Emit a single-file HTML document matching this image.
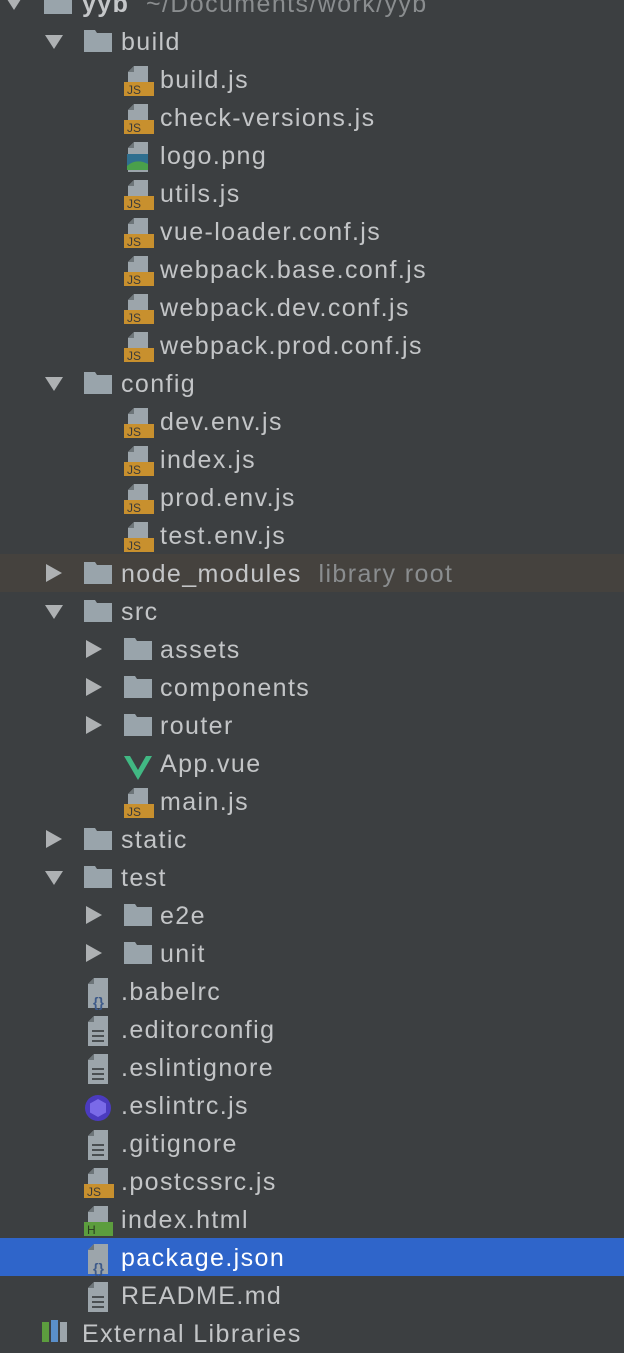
<!DOCTYPE html>
<html><head><meta charset="utf-8"><style>
html,body{margin:0;padding:0;}
body{width:624px;height:1326px;background:#3c3f41;position:relative;overflow:hidden;font-family:"Lucida Grande","Liberation Sans",sans-serif;}
.r{position:absolute;left:0;width:624px;height:38px;}
.t{position:absolute;top:1px;line-height:38px;font-size:25px;letter-spacing:1.4px;color:#c3c5c7;white-space:nowrap;}
.a{position:absolute;}
.i{position:absolute;top:6px;}
.f{position:absolute;top:8px;}
.sel{background:#2f65ca;}
.sel .t{color:#fff;}
.nm{background:#45423e;}
</style></head><body>
<svg width="0" height="0" style="position:absolute">
<defs>
<symbol id="dn" viewBox="0 0 18 14"><polygon points="0,0 18,0 9,14" fill="#aeb1b3"/></symbol>
<symbol id="rt" viewBox="0 0 16 18"><polygon points="0,0 16,9 0,18" fill="#aeb1b3"/></symbol>
<symbol id="fold" viewBox="0 0 28 22"><path d="M0 0H11L13 3H28V22H0Z" fill="#99a4ab"/></symbol>
<symbol id="js" viewBox="0 0 32 32"><path d="M10 0H24V16H4V6Z" fill="#9ca5ab"/><path d="M4 6L10 0V6Z" fill="#6d7579"/><rect x="0" y="16" width="30" height="14" fill="#c8902e"/><text x="3" y="28" font-family="Liberation Sans,sans-serif" font-size="12" fill="#3a3a3a">JS</text></symbol>
<symbol id="doc" viewBox="0 0 32 32"><path d="M10 0H24V30H4V6Z" fill="#9ca5ab"/><path d="M4 6L10 0V6Z" fill="#6d7579"/><rect x="8" y="14" width="12" height="2" fill="#4a4f52"/><rect x="8" y="19" width="12" height="2" fill="#4a4f52"/><rect x="8" y="24" width="12" height="2" fill="#4a4f52"/></symbol>
<symbol id="json" viewBox="0 0 32 32"><path d="M10 0H24V30H4V6Z" fill="#9ca5ab"/><path d="M4 6L10 0V6Z" fill="#6d7579"/><text x="9" y="29" font-family="Liberation Sans,sans-serif" font-size="14" font-weight="bold" fill="#3d5a8a">{}</text></symbol>
<symbol id="html" viewBox="0 0 32 32"><path d="M10 0H24V16H4V6Z" fill="#9ca5ab"/><path d="M4 6L10 0V6Z" fill="#6d7579"/><rect x="0" y="16" width="29" height="14" fill="#5c9d3e"/><text x="3" y="28" font-family="Liberation Sans,sans-serif" font-size="12" fill="#2a3a20">H</text></symbol>
<symbol id="png" viewBox="0 0 32 32"><path d="M10 0H24V30H4V6Z" fill="#9ca5ab"/><path d="M4 6L10 0V6Z" fill="#6d7579"/><rect x="3" y="12" width="21" height="16" fill="#2f6f8f"/><path d="M3 24Q12 16 24 22V28H3Z" fill="#4aa04a"/></symbol>
<symbol id="esl" viewBox="0 0 32 32"><circle cx="14" cy="16" r="13" fill="#4b3bbf"/><polygon points="14,7 22,11.5 22,20.5 14,25 6,20.5 6,11.5" fill="#7a6ae8"/></symbol>
<symbol id="vue" viewBox="0 0 32 32"><polygon points="0,6 8,6 14,17 20,6 28,6 14,30" fill="#41b883"/><polygon points="6,6 10,6 14,13 18,6 22,6 14,20" fill="#3c3f41"/></symbol>
</defs></svg>

<div class="r" style="top:-16px"><svg class="a" style="left:3px;top:12px" width="22" height="14"><use href="#dn"/></svg><svg class="f" style="left:44px" width="28" height="22"><use href="#fold"/></svg><span class="t" style="left:82px"><b style="color:#c5c7c9">yyb</b>&nbsp; <span style="color:#8a8d8f">~/Documents/work/yyb</span></span></div>

<div class="r" style="top:22px"><svg class="a" style="left:45px;top:13px" width="18" height="14"><use href="#dn"/></svg><svg class="f" style="left:84px" width="28" height="22"><use href="#fold"/></svg><span class="t" style="left:121px">build</span></div>
<div class="r" style="top:60px"><svg class="i" style="left:124px" width="32" height="32"><use href="#js"/></svg><span class="t" style="left:160px">build.js</span></div>
<div class="r" style="top:98px"><svg class="i" style="left:124px" width="32" height="32"><use href="#js"/></svg><span class="t" style="left:160px">check-versions.js</span></div>
<div class="r" style="top:136px"><svg class="i" style="left:124px" width="32" height="32"><use href="#png"/></svg><span class="t" style="left:160px">logo.png</span></div>
<div class="r" style="top:174px"><svg class="i" style="left:124px" width="32" height="32"><use href="#js"/></svg><span class="t" style="left:160px">utils.js</span></div>
<div class="r" style="top:212px"><svg class="i" style="left:124px" width="32" height="32"><use href="#js"/></svg><span class="t" style="left:160px">vue-loader.conf.js</span></div>
<div class="r" style="top:250px"><svg class="i" style="left:124px" width="32" height="32"><use href="#js"/></svg><span class="t" style="left:160px">webpack.base.conf.js</span></div>
<div class="r" style="top:288px"><svg class="i" style="left:124px" width="32" height="32"><use href="#js"/></svg><span class="t" style="left:160px">webpack.dev.conf.js</span></div>
<div class="r" style="top:326px"><svg class="i" style="left:124px" width="32" height="32"><use href="#js"/></svg><span class="t" style="left:160px">webpack.prod.conf.js</span></div>

<div class="r" style="top:364px"><svg class="a" style="left:45px;top:13px" width="18" height="14"><use href="#dn"/></svg><svg class="f" style="left:84px" width="28" height="22"><use href="#fold"/></svg><span class="t" style="left:121px">config</span></div>
<div class="r" style="top:402px"><svg class="i" style="left:124px" width="32" height="32"><use href="#js"/></svg><span class="t" style="left:160px">dev.env.js</span></div>
<div class="r" style="top:440px"><svg class="i" style="left:124px" width="32" height="32"><use href="#js"/></svg><span class="t" style="left:160px">index.js</span></div>
<div class="r" style="top:478px"><svg class="i" style="left:124px" width="32" height="32"><use href="#js"/></svg><span class="t" style="left:160px">prod.env.js</span></div>
<div class="r" style="top:516px"><svg class="i" style="left:124px" width="32" height="32"><use href="#js"/></svg><span class="t" style="left:160px">test.env.js</span></div>

<div class="r nm" style="top:554px"><svg class="a" style="left:46px;top:10px" width="16" height="18"><use href="#rt"/></svg><svg class="f" style="left:84px" width="28" height="22"><use href="#fold"/></svg><span class="t" style="left:121px">node_modules&nbsp; <span style="color:#8a8d8f">library root</span></span></div>

<div class="r" style="top:592px"><svg class="a" style="left:45px;top:13px" width="18" height="14"><use href="#dn"/></svg><svg class="f" style="left:84px" width="28" height="22"><use href="#fold"/></svg><span class="t" style="left:121px">src</span></div>
<div class="r" style="top:630px"><svg class="a" style="left:86px;top:10px" width="16" height="18"><use href="#rt"/></svg><svg class="f" style="left:124px" width="28" height="22"><use href="#fold"/></svg><span class="t" style="left:160px">assets</span></div>
<div class="r" style="top:668px"><svg class="a" style="left:86px;top:10px" width="16" height="18"><use href="#rt"/></svg><svg class="f" style="left:124px" width="28" height="22"><use href="#fold"/></svg><span class="t" style="left:160px">components</span></div>
<div class="r" style="top:706px"><svg class="a" style="left:86px;top:10px" width="16" height="18"><use href="#rt"/></svg><svg class="f" style="left:124px" width="28" height="22"><use href="#fold"/></svg><span class="t" style="left:160px">router</span></div>
<div class="r" style="top:744px"><svg class="i" style="left:124px" width="32" height="32"><use href="#vue"/></svg><span class="t" style="left:160px">App.vue</span></div>
<div class="r" style="top:782px"><svg class="i" style="left:124px" width="32" height="32"><use href="#js"/></svg><span class="t" style="left:160px">main.js</span></div>

<div class="r" style="top:820px"><svg class="a" style="left:46px;top:10px" width="16" height="18"><use href="#rt"/></svg><svg class="f" style="left:84px" width="28" height="22"><use href="#fold"/></svg><span class="t" style="left:121px">static</span></div>
<div class="r" style="top:858px"><svg class="a" style="left:45px;top:13px" width="18" height="14"><use href="#dn"/></svg><svg class="f" style="left:84px" width="28" height="22"><use href="#fold"/></svg><span class="t" style="left:121px">test</span></div>
<div class="r" style="top:896px"><svg class="a" style="left:86px;top:10px" width="16" height="18"><use href="#rt"/></svg><svg class="f" style="left:124px" width="28" height="22"><use href="#fold"/></svg><span class="t" style="left:160px">e2e</span></div>
<div class="r" style="top:934px"><svg class="a" style="left:86px;top:10px" width="16" height="18"><use href="#rt"/></svg><svg class="f" style="left:124px" width="28" height="22"><use href="#fold"/></svg><span class="t" style="left:160px">unit</span></div>

<div class="r" style="top:972px"><svg class="i" style="left:84px" width="32" height="32"><use href="#json"/></svg><span class="t" style="left:121px">.babelrc</span></div>
<div class="r" style="top:1010px"><svg class="i" style="left:84px" width="32" height="32"><use href="#doc"/></svg><span class="t" style="left:121px">.editorconfig</span></div>
<div class="r" style="top:1048px"><svg class="i" style="left:84px" width="32" height="32"><use href="#doc"/></svg><span class="t" style="left:121px">.eslintignore</span></div>
<div class="r" style="top:1086px"><svg class="i" style="left:84px" width="32" height="32"><use href="#esl"/></svg><span class="t" style="left:121px">.eslintrc.js</span></div>
<div class="r" style="top:1124px"><svg class="i" style="left:84px" width="32" height="32"><use href="#doc"/></svg><span class="t" style="left:121px">.gitignore</span></div>
<div class="r" style="top:1162px"><svg class="i" style="left:84px" width="32" height="32"><use href="#js"/></svg><span class="t" style="left:121px">.postcssrc.js</span></div>
<div class="r" style="top:1200px"><svg class="i" style="left:84px" width="32" height="32"><use href="#html"/></svg><span class="t" style="left:121px">index.html</span></div>
<div class="r sel" style="top:1238px"><svg class="i" style="left:84px" width="32" height="32"><use href="#json"/></svg><span class="t" style="left:121px">package.json</span></div>
<div class="r" style="top:1276px"><svg class="i" style="left:84px" width="32" height="32"><use href="#doc"/></svg><span class="t" style="left:121px">README.md</span></div>
<div class="r" style="top:1314px"><svg class="i" style="left:40px;top:4px" width="28" height="28"><rect x="2" y="4" width="7" height="20" fill="#5c9d3e"/><rect x="11" y="2" width="7" height="22" fill="#5a8fc9"/><rect x="20" y="4" width="7" height="20" fill="#9ca5ab"/></svg><span class="t" style="left:82px">External Libraries</span></div>
</body></html>
